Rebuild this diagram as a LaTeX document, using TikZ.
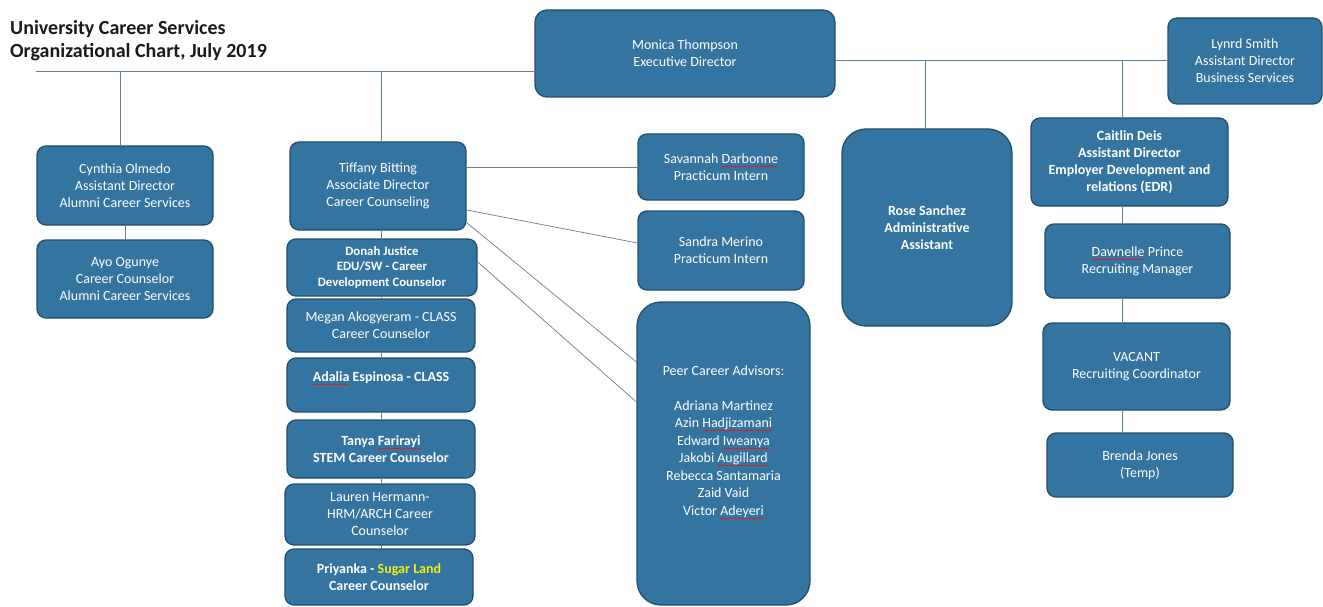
\documentclass[tikz,border=0pt]{standalone}
\usepackage{fontspec}
\setmainfont{Carlito}

\definecolor{boxfill}{HTML}{3474A0}
\definecolor{boxedge}{HTML}{224F6E}
\definecolor{wire}{HTML}{5F7F95}
\definecolor{titleink}{HTML}{1A1A1A}
\definecolor{land}{HTML}{F2EE10}

% red spell-check underline under a word
\newsavebox\spellbox
\newcommand\spellmark[1]{\leavevmode\sbox\spellbox{#1}%
  \rlap{\special{color push rgb 0.83 0.13 0.13}\rule[-3.6pt]{\wd\spellbox}{1pt}\special{color pop}}%
  \usebox\spellbox}

% \orgbox[options]{name}{left}{top}{right}{bottom}{text}
\newcommand\orgbox[7][]{%
  \node[staff,#1,minimum width={(#5-#3)*1pt},minimum height={(#6-#4)*1pt}]
    (#2) at ({(#3+#5)/2},{(#4+#6)/2}) {#7};}

\tikzset{
  staff/.style={draw=boxedge, line width=1.3pt, fill=boxfill, rounded corners=9pt,
    text=white, align=center, inner sep=0pt, font=\fontsize{14}{17}\selectfont},
  boldtext/.style={font=\fontsize{14}{17}\bfseries\selectfont},
  smalltext/.style={font=\fontsize{12.8}{15.5}\bfseries\selectfont},
  listtext/.style={font=\fontsize{14}{17.5}\selectfont},
  biground/.style={rounded corners=24pt},
  wire/.style={draw=wire, line width=0.7pt},
  heading/.style={anchor=base west, inner sep=0pt, text=titleink,
    font=\fontsize{20}{24}\bfseries\selectfont}
}

\begin{document}
\begin{tikzpicture}[x=1pt,y=-1pt]
\useasboundingbox (0,0) rectangle (1323,607);

% heading
\node[heading] (title1) at (10,35) {University Career Services};
\node[heading] (title2) at (10,58) {Organizational Chart, July 2019};

% staff boxes
\orgbox[rounded corners=12pt]{mon}{535}{10}{835}{97}{Monica Thompson\\Executive Director}
\orgbox{lyn}{1168}{18}{1322}{104}{Lynrd Smith\\Assistant Director\\Business Services}

\orgbox{cyn}{37}{146}{213}{225}{Cynthia Olmedo\\Assistant Director\\Alumni Career Services}
\orgbox{ayo}{37}{240}{213}{318}{Ayo Ogunye\\Career Counselor\\Alumni Career Services}

\orgbox{tif}{290}{142}{466}{230}{Tiffany Bitting\\Associate Director\\Career Counseling}
\orgbox[smalltext]{don}{287}{239}{477}{296}{Donah Justice\\EDU/SW - Career\\Development Counselor}
\orgbox{meg}{287}{299}{475}{352}{Megan Akogyeram - CLASS\\Career Counselor}
\orgbox[boldtext]{ada}{287}{358}{475}{412}{\spellmark{Adalia} Espinosa - CLASS\\\mbox{}}
\orgbox[boldtext]{tan}{287}{420}{475}{478}{Tanya \spellmark{Farirayi}\\STEM Career Counselor}
\orgbox{lau}{285}{484}{475}{545}{Lauren Hermann-\\HRM/ARCH Career\\Counselor}
\orgbox[boldtext]{pri}{285}{549}{473}{605}{Priyanka - \textcolor{land}{Sugar Land}\\Career Counselor}

\orgbox{sav}{638}{134}{804}{200}{Savannah \spellmark{Darbonne}\\Practicum Intern}
\orgbox{san}{638}{211}{804}{290}{Sandra Merino\\Practicum Intern}
\orgbox[biground,listtext]{peer}{637}{302}{810}{605}{Peer Career Advisors:\\[17pt]
  Adriana Martinez\\Azin \spellmark{Hadjizamani}\\Edward \spellmark{Iweanya}\\
  Jakobi \spellmark{Augillard}\\Rebecca Santamaria\\Zaid Vaid\\Victor \spellmark{Adeyeri}\\[8pt]}

\orgbox[boldtext,biground]{rose}{842}{129}{1012}{326}{Rose Sanchez\\Administrative\\Assistant}

\orgbox[boldtext]{cai}{1031}{118}{1228}{206}{Caitlin Deis\\Assistant Director\\Employer Development and\\relations (EDR)}
\orgbox{daw}{1045}{224}{1230}{298}{\spellmark{Dawnelle} Prince\\Recruiting Manager}
\orgbox{vac}{1043}{323}{1230}{410}{VACANT\\Recruiting Coordinator}
\orgbox{bre}{1047}{433}{1233}{497}{Brenda Jones\\(Temp)}

% reporting lines
\coordinate (busL) at (36,71);
\coordinate (busR) at (0,60);
\coordinate (cynx) at (120,0);
\coordinate (alux) at (125,0);
\coordinate (colx) at (381,0);
\coordinate (rosex) at (925,0);
\coordinate (edrx) at (1122,0);

\draw[wire] (busL) -- (busL -| mon.west);
\draw[wire] (busR -| mon.east) -- (busR -| lyn.west);

\draw[wire] (cynx |- busL) -- (cynx |- cyn.north);
\draw[wire] (alux |- cyn.south) -- (alux |- ayo.north);

\draw[wire] (colx |- busL) -- (colx |- tif.north);
\draw[wire] (colx |- tif.south) -- (colx |- don.north);
\draw[wire] (colx |- don.south) -- (colx |- meg.north);
\draw[wire] (colx |- meg.south) -- (colx |- ada.north);
\draw[wire] (colx |- ada.south) -- (colx |- tan.north);
\draw[wire] (colx |- tan.south) -- (colx |- lau.north);
\draw[wire] (colx |- lau.south) -- (colx |- pri.north);

\draw[wire] (rosex |- busR) -- (rosex |- rose.north);
\draw[wire] (edrx |- busR) -- (edrx |- cai.north);
\draw[wire] (edrx |- cai.south) -- (edrx |- daw.north);
\draw[wire] (edrx |- daw.south) -- (edrx |- vac.north);
\draw[wire] (edrx |- vac.south) -- (edrx |- bre.north);

% interns and peer advisors
\draw[wire] (tif.east |- sav.west) -- (sav.west);
\draw[wire] ([yshift=-24pt]tif.east) -- ([yshift=7.5pt]san.west);
\draw[wire] ([yshift=8pt]tif.south east) -- ([yshift=91.5pt]peer.west);
\draw[wire] ([yshift=5.5pt]don.east) -- ([yshift=51.5pt]peer.west);
\end{tikzpicture}
\end{document}
